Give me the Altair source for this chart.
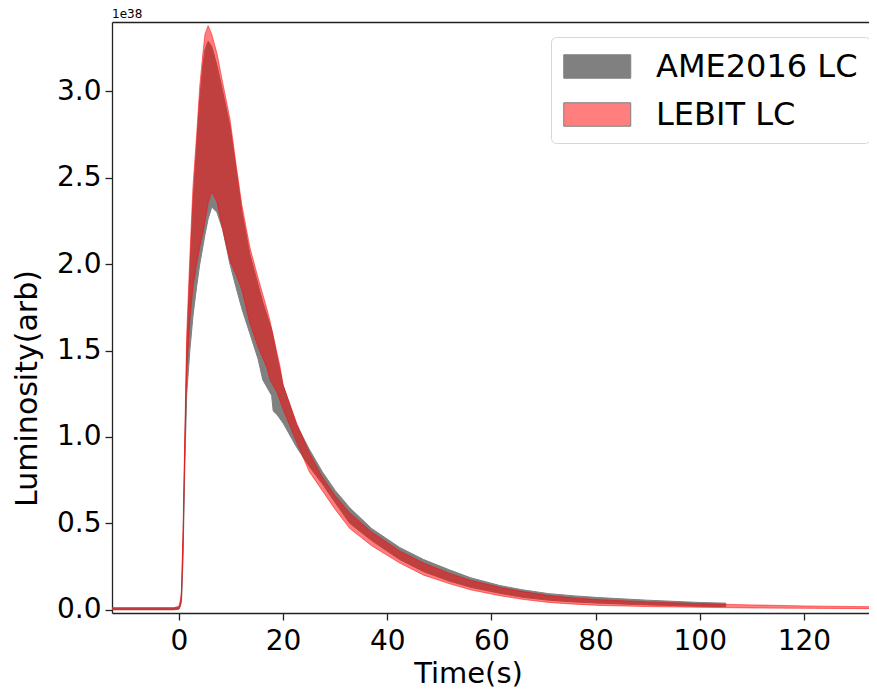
import altair as alt
import pandas as pd

# ---- data (luminosity in units of 1e38, time in seconds) ----
t_red = [-13, -1, 0, 0.3, 0.5, 0.8, 1.15, 1.5, 2.1, 2.7, 3.4, 4.0, 4.6, 5.0, 5.6, 6.3, 7.3, 8.4,
         9.8, 11.1, 12.1, 13.6, 15.2, 16.9, 17.5, 18.8, 19.4, 20, 22.6, 25, 27.5, 30, 32.8, 37,
         42.4, 47, 52, 56, 61.6, 66, 71, 76, 80.7, 90, 100, 110, 120, 134]
red_hi = [0.012, 0.012, 0.02, 0.06, 0.12, 0.48, 1.05, 1.6, 2.05, 2.45, 2.75, 3.03, 3.22, 3.33,
          3.38, 3.33, 3.22, 3.05, 2.84, 2.55, 2.34, 2.10, 1.92, 1.74, 1.67, 1.49, 1.41, 1.30,
          1.08, 0.91, 0.77, 0.66, 0.56, 0.45, 0.34, 0.27, 0.21, 0.17, 0.13, 0.105, 0.082, 0.068,
          0.058, 0.045, 0.035, 0.028, 0.022, 0.017]
red_lo = [0.0, 0.0, 0.005, 0.03, 0.07, 0.38, 0.95, 1.38, 1.68, 1.87, 2.0, 2.1, 2.18, 2.25,
          2.35, 2.42, 2.36, 2.2, 2.02, 1.93, 1.85, 1.66, 1.52, 1.40, 1.33, 1.26, 1.21, 1.16,
          0.97, 0.8, 0.69, 0.58, 0.47, 0.37, 0.27, 0.2, 0.15, 0.115, 0.081, 0.06, 0.042, 0.032,
          0.025, 0.018, 0.014, 0.01, 0.008, 0.006]

t_gray = [-13, -1, 0, 0.3, 0.5, 0.8, 1.15, 1.5, 2.1, 2.7, 3.4, 4.0, 4.6, 5.0, 5.6, 6.3, 7.3, 8.4,
          9.8, 11.1, 12.1, 13.6, 15.2, 16.1, 17.8, 18.1, 18.8, 20, 22.6, 25, 27.5, 30, 32.8, 37,
          42.4, 47, 52, 56, 61.6, 66, 71, 76, 80.7, 90, 100, 105]
gray_hi = [0.01, 0.01, 0.015, 0.04, 0.09, 0.42, 0.98, 1.5, 1.95, 2.35, 2.68, 2.95, 3.15, 3.24,
           3.29, 3.26, 3.15, 3.0, 2.8, 2.52, 2.3, 2.06, 1.88, 1.78, 1.62, 1.58, 1.47, 1.30,
           1.07, 0.93, 0.8, 0.69, 0.59, 0.47, 0.36, 0.29, 0.23, 0.185, 0.14, 0.115, 0.093, 0.08,
           0.07, 0.055, 0.042, 0.038]
gray_lo = [0.0, 0.0, 0.003, 0.02, 0.05, 0.3, 0.85, 1.25, 1.5, 1.7, 1.87, 2.0, 2.1, 2.17,
           2.26, 2.33, 2.30, 2.2, 2.0, 1.85, 1.74, 1.6, 1.45, 1.33, 1.24, 1.15, 1.13, 1.08,
           0.94, 0.83, 0.73, 0.62, 0.5, 0.4, 0.29, 0.22, 0.165, 0.13, 0.095, 0.072, 0.055,
           0.045, 0.038, 0.028, 0.02, 0.018]

series = ["AME2016 LC", "LEBIT LC"]
series_colors = ["#808080", "rgba(255,0,0,0.5)"]
x_ticks = [0, 20, 40, 60, 80, 100, 120]
y_ticks = [0.0, 0.5, 1.0, 1.5, 2.0, 2.5, 3.0]

gray_df = pd.DataFrame({"t": t_gray, "lo": gray_lo, "hi": gray_hi, "series": series[0]})
red_df = pd.DataFrame({"t": t_red, "lo": red_lo, "hi": red_hi, "series": series[1]})

FONT = "DejaVu Sans"
x_dom = [-12.85, 132.5]
y_dom = [-0.019, 3.401]

color = alt.Color(
    "series:N",
    scale=alt.Scale(domain=series, range=series_colors),
    legend=alt.Legend(
        title=None,
        orient="none",
        legendX=439,
        legendY=15,
        symbolType="M-1,-0.7 L3,-0.7 L3,0.7 L-1,0.7 Z",
        symbolSize=1122,
        symbolStrokeWidth=1,
        labelOffset=58,
        labelFontSize=32,
        labelFont=FONT,
        labelColor="black",
        labelLimit=400,
        rowPadding=14,
        padding=12,
        fillColor="white",
        strokeColor="#d6d6d6",
        cornerRadius=5,
    ),
)

gray_layer = alt.Chart(gray_df).mark_area(
    stroke="#808080", strokeWidth=1, clip=True
).encode(
    x=alt.X("t:Q", scale=alt.Scale(domain=x_dom, nice=False, zero=False),
            axis=alt.Axis(values=x_ticks, title="Time(s)", format="d", labelPadding=7,
                          titleX=356, titleY=69, titleBaseline="alphabetic", titleFontSize=29)),
    y=alt.Y("lo:Q", scale=alt.Scale(domain=y_dom, nice=False, zero=False),
            axis=alt.Axis(values=y_ticks, format=".1f", title="Luminosity(arb)",
                          titleX=-70, titleY=366)),
    y2="hi:Q",
    color=color,
)

red_layer = alt.Chart(red_df).mark_area(
    stroke="red", strokeWidth=1, strokeOpacity=0.5, clip=True
).encode(
    x=alt.X("t:Q", scale=alt.Scale(domain=x_dom, nice=False, zero=False),
            axis=alt.Axis(orient="top", labels=False, ticks=False, title=None, grid=False)),
    y=alt.Y("lo:Q"),
    y2="hi:Q",
    color=color,
)

chart = alt.layer(gray_layer, red_layer).resolve_axis(x="independent").properties(
    width=757,
    height=591,
    autosize=alt.AutoSizeParams(type="none"),
    padding={"left": 104, "top": 14, "right": 0, "bottom": 76},
    title=alt.TitleParams("1e38", anchor="start", frame="group", fontSize=12,
                          fontWeight="normal", font=FONT, color="black", offset=1),
).configure_view(stroke=None).configure_axis(
    labelFont=FONT, titleFont=FONT, labelFontSize=28, titleFontSize=30,
    labelColor="black", titleColor="black", titleFontWeight="normal",
    domainColor="#222222", domainWidth=1.3, tickColor="#222222", tickSize=7, tickWidth=1.3,
    grid=False, labelPadding=4,
)

chart.save("out.html", embed_options={"renderer": "svg", "actions": False})
